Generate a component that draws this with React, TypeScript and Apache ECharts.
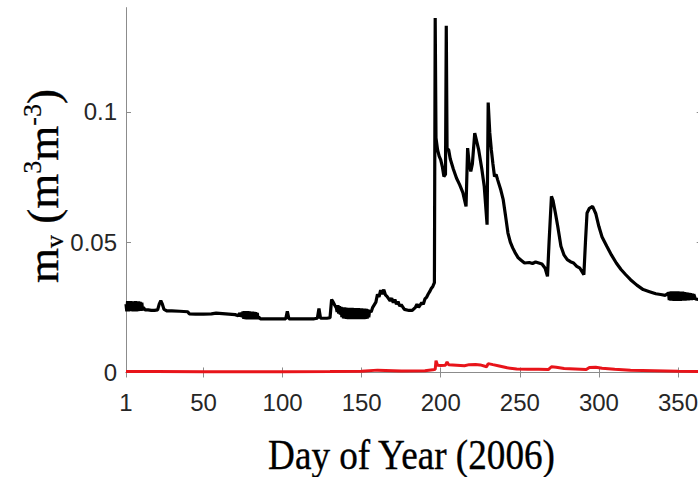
import React, { useEffect, useRef } from "react";
import * as echarts from "echarts";

const xTicks = [1, 50, 100, 150, 200, 250, 300, 350];
const yTicks = [0, 0.05, 0.1];

// Black series: [day, m_v]
const blackSeries: [number, number][] = [
  [1, 0.0262], [1.5, 0.0235], [2, 0.0274], [2.5, 0.0234], [3, 0.0273], [3.5, 0.0235], [4, 0.0274], [4.5, 0.0236],
  [5, 0.0272], [5.5, 0.0234], [6, 0.0273], [6.5, 0.0235], [7, 0.0274], [7.5, 0.0234], [8, 0.0272], [8.5, 0.0235],
  [9, 0.0273], [9.5, 0.0236], [10, 0.0271], [10.5, 0.0236], [11, 0.0268], [11.5, 0.0238], [12, 0.025],
  [13, 0.024], [15, 0.024], [17, 0.0238], [19, 0.0238], [21, 0.024], [22, 0.0262], [23, 0.0275], [24, 0.0262],
  [25, 0.0242], [27, 0.0236], [30, 0.0236], [35, 0.0235], [40, 0.0233], [41, 0.0225], [45, 0.0224], [50, 0.0224],
  [55, 0.0225], [58, 0.0228], [62, 0.0226], [66, 0.0224], [70, 0.0222], [72, 0.0218], [73, 0.0228], [73.5, 0.0214],
  [74, 0.023], [74.5, 0.0212], [75, 0.0234], [75.5, 0.0206], [76, 0.0235], [76.5, 0.0205], [77, 0.0234], [77.5, 0.0204],
  [78, 0.0235], [78.5, 0.0205], [79, 0.0234], [79.5, 0.0204], [80, 0.0233], [80.5, 0.0205], [81, 0.0233], [81.5, 0.0204],
  [82, 0.0232], [82.5, 0.0205], [83, 0.0231], [83.5, 0.0204], [84, 0.0228], [84.5, 0.0205], [85, 0.0212],
  [86, 0.0206], [90, 0.0206], [95, 0.0206], [100, 0.0206], [102, 0.0206], [103, 0.0235], [104, 0.0206],
  [110, 0.0206], [115, 0.0206], [120, 0.0206], [122, 0.0208], [123, 0.0245], [124, 0.0208], [128, 0.0208], [130, 0.021],
  [131, 0.028], [132, 0.027], [133, 0.0258], [134, 0.0248], [134.5, 0.0232], [135, 0.0258], [135.5, 0.0226],
  [136, 0.0254], [136.5, 0.0222], [137, 0.0252], [137.5, 0.0212], [138, 0.0250], [138.5, 0.0208], [139, 0.0250],
  [139.5, 0.0207], [140, 0.0249], [140.5, 0.0206], [141, 0.0248], [141.5, 0.0205], [142, 0.0248], [142.5, 0.0206],
  [143, 0.0247], [143.5, 0.0205], [144, 0.0248], [144.5, 0.0206], [145, 0.0247], [145.5, 0.0205], [146, 0.0247],
  [146.5, 0.0206], [147, 0.0246], [147.5, 0.0205], [148, 0.0247], [148.5, 0.0206], [149, 0.0246], [149.5, 0.0205],
  [150, 0.0246], [150.5, 0.0206], [151, 0.0245], [151.5, 0.0205], [152, 0.0245], [152.5, 0.0206], [153, 0.0244],
  [153.5, 0.0207], [154, 0.0242], [154.5, 0.0212], [155, 0.0236], [156, 0.0232],
  [157, 0.025], [159, 0.027], [160, 0.03], [161, 0.029], [162, 0.0316], [163, 0.03], [164, 0.0318], [165, 0.0298],
  [166, 0.0292], [168, 0.0275], [169, 0.0285], [170, 0.0268], [171, 0.028], [172, 0.0262], [173, 0.0272], [174, 0.0255],
  [175, 0.026], [177, 0.0242], [180, 0.0238], [182, 0.0238], [184, 0.025], [185, 0.0262], [186, 0.025], [188, 0.0268],
  [189, 0.0262], [190, 0.0282], [191, 0.0288], [192, 0.03], [193, 0.031], [194, 0.0322], [195, 0.033], [196, 0.0345],
  [196.5, 0.136], [197, 0.09], [198, 0.0854], [199, 0.083], [200, 0.0816], [201, 0.079], [202, 0.0752], [203, 0.076],
  [203.5, 0.133], [204, 0.086], [205, 0.0854], [206, 0.082], [208, 0.078], [210, 0.0745], [212, 0.072], [214, 0.069],
  [215, 0.0663], [216, 0.0637], [217, 0.0861], [218, 0.08], [219, 0.0771], [220, 0.08], [221.5, 0.0918], [223, 0.088],
  [224, 0.0854], [226, 0.078], [227.5, 0.0714], [229.3, 0.0567], [230, 0.1036], [231, 0.092], [232, 0.0854], [233, 0.08],
  [234, 0.0752], [235, 0.076], [236, 0.0739], [238, 0.07], [239.5, 0.0663], [241, 0.06], [242.5, 0.0535], [244, 0.05],
  [245.5, 0.0478], [247, 0.046], [249, 0.044], [251, 0.043], [253, 0.042], [256, 0.0422], [258, 0.0418], [260, 0.0424],
  [262, 0.042], [264, 0.0416], [266, 0.04], [267.5, 0.0369], [268.5, 0.05], [270, 0.0676], [271, 0.066], [272.5, 0.0612],
  [274, 0.056], [276, 0.0484], [278, 0.045], [280, 0.0433], [282, 0.0425], [284, 0.042], [286, 0.0407], [288, 0.04],
  [290.5, 0.0375], [291.5, 0.05], [292.5, 0.0612], [294, 0.063], [296, 0.0637], [298, 0.061], [300, 0.056], [302, 0.052],
  [305, 0.0484], [308, 0.045], [311, 0.042], [314, 0.0395], [317, 0.0375], [320, 0.0356], [324, 0.0335], [328, 0.0318],
  [332, 0.031], [336, 0.0302], [339, 0.0299], [342, 0.0296], [344, 0.0305], [344.5, 0.0278], [345, 0.031],
  [345.5, 0.0276], [346, 0.0311], [346.5, 0.0276], [347, 0.031], [347.5, 0.0275], [348, 0.0311], [348.5, 0.0276],
  [349, 0.031], [349.5, 0.0275], [350, 0.0311], [350.5, 0.0276], [351, 0.031], [351.5, 0.0275], [352, 0.0309],
  [352.5, 0.0276], [353, 0.031], [353.5, 0.0277], [354, 0.0308], [354.5, 0.0276], [355, 0.0307], [355.5, 0.0277],
  [356, 0.0306], [356.5, 0.0277], [357, 0.0305], [357.5, 0.0278], [358, 0.0304], [358.5, 0.0278], [359, 0.0302],
  [359.5, 0.0279], [360, 0.03], [361, 0.0282], [363, 0.028], [365, 0.0278],
];

// Red series: [day, m_v]
const redSeries: [number, number][] = [
  [1, 0.0004], [20, 0.0004], [50, 0.0003], [100, 0.0003], [130, 0.0004], [150, 0.0005], [160, 0.0009], [165, 0.0008],
  [175, 0.0006], [190, 0.0007], [195, 0.001], [196.5, 0.0012], [197, 0.0045], [198, 0.0028], [200, 0.0027], [203, 0.0028],
  [204, 0.004], [205, 0.003], [210, 0.0028], [215, 0.0026], [218, 0.003], [222, 0.0031], [225, 0.0029], [229, 0.0022],
  [230, 0.0034], [233, 0.003], [237, 0.0025], [242, 0.0018], [248, 0.0013], [255, 0.0012], [262, 0.0012], [268, 0.0011],
  [270, 0.0022], [273, 0.002], [278, 0.0015], [285, 0.0013], [292, 0.0011], [294, 0.0019], [298, 0.002], [302, 0.0016],
  [310, 0.0012], [320, 0.0009], [335, 0.0007], [350, 0.0005], [365, 0.0004],
];

const AXIS_COLOR = "#8c8c8c";
const LABEL_COLOR = "#262626";

export default function App() {
  const ref = useRef<HTMLDivElement>(null);

  useEffect(() => {
    if (!ref.current) return;
    const chart = echarts.init(ref.current, undefined, { renderer: "svg" });

    const xBase = {
      type: "value" as const,
      min: 1,
      max: 365,
      splitLine: { show: false },
      axisLine: { show: true, lineStyle: { color: AXIS_COLOR, width: 1 } },
      axisTick: { show: true, inside: true, length: 5, customValues: xTicks, lineStyle: { color: AXIS_COLOR } },
    };
    const yBase = {
      type: "value" as const,
      min: -0.0012,
      max: 0.14,
      splitLine: { show: false },
      axisLine: { show: true, lineStyle: { color: AXIS_COLOR, width: 1 } },
      axisTick: { show: true, inside: true, length: 5, customValues: yTicks, lineStyle: { color: AXIS_COLOR } },
    };

    const serif = { fontFamily: "Liberation Serif", fill: "#000", stroke: "#000", lineWidth: 0.35 };

    chart.setOption({
      animation: false,
      backgroundColor: "#ffffff",
      grid: { left: 126, right: 10.3, top: 7.6, bottom: 101.4, containLabel: false },
      xAxis: [
        {
          ...xBase,
          position: "bottom",
          axisLabel: {
            show: true,
            customValues: xTicks,
            margin: 15,
            fontSize: 24,
            fontFamily: "Liberation Sans",
            color: LABEL_COLOR,
          },
        },
        { ...xBase, position: "top", axisLabel: { show: false } },
      ],
      yAxis: [
        {
          ...yBase,
          position: "left",
          axisLabel: {
            show: true,
            customValues: yTicks,
            margin: 9,
            fontSize: 24,
            fontFamily: "Liberation Sans",
            color: LABEL_COLOR,
            formatter: (v: number) => String(Number(v.toFixed(3))),
          },
        },
        { ...yBase, position: "right", axisLabel: { show: false } },
      ],
      series: [
        {
          type: "line",
          data: redSeries,
          showSymbol: false,
          symbol: "none",
          lineStyle: { color: "#e8141a", width: 3 },
          z: 2,
        },
        {
          type: "line",
          data: blackSeries,
          showSymbol: false,
          symbol: "none",
          lineStyle: { color: "#000000", width: 3.2 },
          z: 3,
        },
      ],
      graphic: [
        {
          type: "text",
          x: 411.5,
          y: 455,
          scaleX: 0.885,
          style: {
            ...serif,
            text: "Day of Year (2006)",
            fontSize: 42,
            align: "center",
            verticalAlign: "middle",
          },
        },
        {
          type: "text",
          x: 43,
          y: 186,
          rotation: Math.PI / 2,
          style: {
            text: "{m|m}{sub|v}{m| (m}{sup|3}{m|m}{sup|-3}{m|)}",
            align: "center",
            verticalAlign: "middle",
            rich: {
              m: { ...serif, fontSize: 45, lineHeight: 48, verticalAlign: "middle" },
              sub: { ...serif, lineWidth: 0.25, fontSize: 26, lineHeight: 26, verticalAlign: "bottom" },
              sup: { ...serif, lineWidth: 0.25, fontSize: 26, lineHeight: 26, verticalAlign: "top" },
            },
          },
        },
      ],
    });

    return () => chart.dispose();
  }, []);

  return (
    <div style={{ position: "fixed", left: 0, top: 0, width: 698, height: 477, overflow: "hidden", background: "#fff" }}>
      <div ref={ref} style={{ width: 712, height: 477 }} />
    </div>
  );
}
